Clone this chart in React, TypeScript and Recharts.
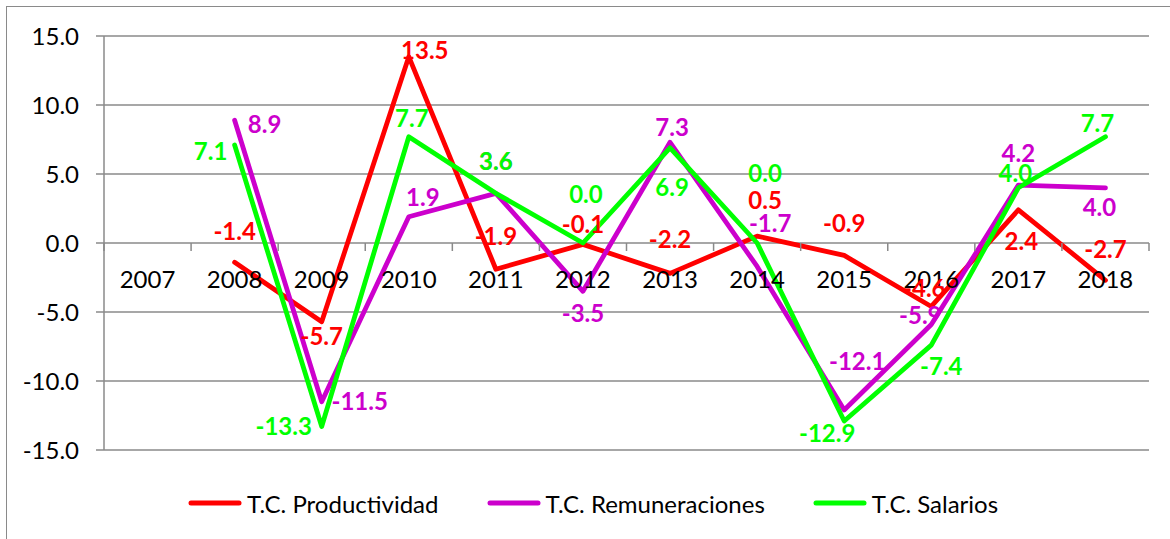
import { LineChart, Line, XAxis, YAxis, CartesianGrid, Legend, LabelList } from 'recharts';

const years = ['2007', '2008', '2009', '2010', '2011', '2012', '2013', '2014', '2015', '2016', '2017', '2018'];
const productividad = [null, -1.4, -5.7, 13.5, -1.9, -0.1, -2.2, 0.5, -0.9, -4.6, 2.4, -2.7];
const remuneraciones = [null, 8.9, -11.5, 1.9, 3.6, -3.5, 7.3, -1.7, -12.1, -5.9, 4.2, 4.0];
const salarios = [null, 7.1, -13.3, 7.7, 3.6, 0.0, 6.9, 0.0, -12.9, -7.4, 4.0, 7.7];
const yTicks = [-15, -10, -5, 0, 5, 10, 15];

// where each data label sits relative to its point, [dx, dy] per year
const prodLabelPos = [[0, 0], [0, -32], [0, 14], [16, -7], [0, -34], [0, -21], [0, -35], [8, -37], [0, -33], [-7, -19], [3, 31], [0, -32]];
const remLabelPos = [[0, 0], [30, 3], [38, -1], [14, -20], [0, -33], [0, 21], [2, -16], [13, -44], [13, -49], [-11, -10], [0, -33], [-6, 19]];
const salLabelPos = [[0, 0], [-24, 5], [-38, -1], [3, -19], [0, -33], [3, -50], [2, 39], [8, -71], [-17, 11], [10, 20], [-3, -15], [-8, -14]];

const data = years.map((year, i) => ({
  year,
  prod: productividad[i],
  rem: remuneraciones[i],
  sal: salarios[i],
}));

const series = [
  { key: 'prod', name: 'T.C. Productividad', color: '#FF0000', pos: prodLabelPos },
  { key: 'rem', name: 'T.C. Remuneraciones', color: '#CC00CC', pos: remLabelPos },
  { key: 'sal', name: 'T.C. Salarios', color: '#00FF00', pos: salLabelPos },
];

const W = 1170;
const H = 539;
const FONT = 'Lato, "Open Sans", sans-serif';
const GRID = '#8a8a8a';
const PLOT_LEFT = 104;
const PLOT_RIGHT = 21;
const PLOT_TOP = 36;
const PLOT_BOTTOM = 450;
const ZERO_Y = (PLOT_TOP + PLOT_BOTTOM) / 2;
const BAND = (W - PLOT_LEFT - PLOT_RIGHT) / years.length;

const makeLabel = (color: string, pos: number[][]) => (p: any) => {
  if (p.value == null) return null;
  const x = p.x ?? p.viewBox?.x;
  const y = p.y ?? p.viewBox?.y;
  const [dx, dy] = pos[p.index] || [0, 0];
  return (
    <text x={x + dx} y={y + dy} fill={color} textAnchor="middle" dominantBaseline="central"
      fontSize={24} fontWeight={700} fontFamily={FONT}>
      {Number(p.value).toFixed(1)}
    </text>
  );
};

// year labels sit under the zero line, tick marks between categories
const YearTick = (props: any) => {
  const { x, payload, index } = props;
  const half = BAND / 2;
  return (
    <g>
      <line x1={x - half} x2={x - half} y1={ZERO_Y} y2={ZERO_Y + 8} stroke={GRID} strokeWidth={1.5} />
      {index === years.length - 1 && (
        <line x1={x + half} x2={x + half} y1={ZERO_Y} y2={ZERO_Y + 8} stroke={GRID} strokeWidth={1.5} />
      )}
      <text x={x} y={ZERO_Y + 35} textAnchor="middle" dominantBaseline="central" fill="#000"
        fontSize={24} fontFamily={FONT}>
        {payload.value}
      </text>
    </g>
  );
};

const LegendBox = () => (
  <div style={{ display: 'flex', alignItems: 'center', gap: 48, height: 30, fontFamily: FONT, fontSize: 24, color: '#000' }}>
    {series.map((s) => (
      <div key={s.key} style={{ display: 'flex', alignItems: 'center', gap: 5 }}>
        <svg width={54} height={10}>
          <line x1={3} x2={51} y1={5} y2={5} stroke={s.color} strokeWidth={5} strokeLinecap="round" />
        </svg>
        <span>{s.name}</span>
      </div>
    ))}
  </div>
);

export default function App() {
  return (
    <div style={{ position: 'absolute', left: 0, top: 0, width: W, height: H, background: '#fff', overflow: 'hidden' }}>
      <div style={{ position: 'absolute', left: 6, top: 6, width: W, height: H, borderTop: `1px solid ${GRID}`, borderLeft: `1px solid ${GRID}` }} />
      <div style={{ position: 'absolute', left: 0, top: 0 }}>
        <LineChart width={W} height={H} data={data} margin={{ top: PLOT_TOP, right: PLOT_RIGHT, bottom: 58, left: 4 }}>
          <CartesianGrid vertical={false} stroke={GRID} strokeWidth={1.5} />
          <XAxis dataKey="year" height={1} axisLine={false} tickLine={false} tick={<YearTick />} interval={0}
            padding={{ left: BAND / 2, right: BAND / 2 }} />
          <YAxis domain={[-15, 15]} ticks={yTicks} width={PLOT_LEFT - 4} tickSize={8} tickMargin={17}
            tickFormatter={(v: number) => v.toFixed(1)}
            axisLine={{ stroke: GRID, strokeWidth: 1.5 }} tickLine={{ stroke: GRID, strokeWidth: 1.5 }}
            tick={{ fill: '#000', fontSize: 24, fontFamily: FONT }} />
          <Legend verticalAlign="bottom" content={<LegendBox />}
            wrapperStyle={{ left: 188, top: 488, width: 1000, height: 30 }} />
          {series.map((s) => (
            <Line key={s.key} type="linear" dataKey={s.key} name={s.name} stroke={s.color} strokeWidth={4.8}
              strokeLinecap="round" strokeLinejoin="round" dot={false} isAnimationActive={false}>
              <LabelList dataKey={s.key} content={makeLabel(s.color, s.pos)} />
            </Line>
          ))}
        </LineChart>
      </div>
    </div>
  );
}
